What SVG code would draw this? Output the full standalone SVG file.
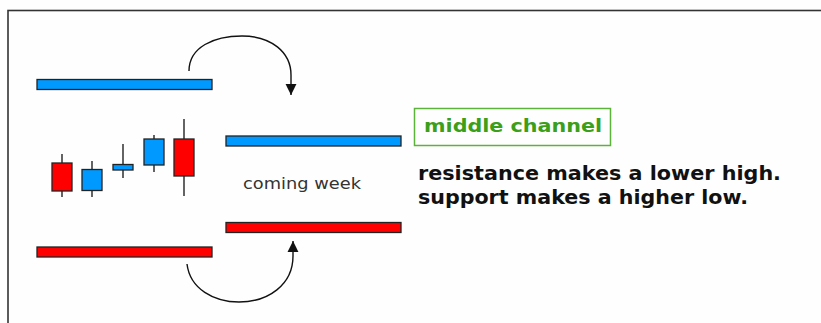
<svg xmlns="http://www.w3.org/2000/svg" width="821" height="323" viewBox="0 0 821 323">
  <style>
    .bar { stroke: #222; stroke-width: 1.3; }
    .blue { fill: #0099ff; }
    .red { fill: #ff0000; }
    .wick { stroke: #222; stroke-width: 1.4; fill: none; }
    .body { stroke: #222; stroke-width: 1.3; }
    .conn { stroke: #111; stroke-width: 1.4; fill: none; }
    .lbl { font-family: "DejaVu Sans", Verdana, sans-serif; }
  </style>
  <defs>
    <marker id="ah" markerUnits="userSpaceOnUse" markerWidth="12" markerHeight="12" refX="10" refY="5.5" orient="auto" viewBox="0 0 11 11">
      <path d="M0,0.5 L10,5.5 L0,10.5 z" fill="#111"/>
    </marker>
  </defs>
  <rect x="0" y="0" width="821" height="323" fill="#fefefe"/>
  <rect id="frame" x="8" y="10.5" width="830" height="330" fill="none" stroke="#333" stroke-width="1.6"/>

  <g id="old-resistance"><rect class="bar blue" x="37" y="79.5" width="175" height="10"/></g>
  <g id="new-resistance"><rect class="bar blue" x="226" y="136" width="175" height="10"/></g>
  <g id="old-support"><rect class="bar red" x="37" y="247" width="175" height="10"/></g>
  <g id="new-support"><rect class="bar red" x="226" y="222.5" width="175" height="10"/></g>

  <g id="candles">
    <g id="c1"><line class="wick" x1="62" y1="154" x2="62" y2="197"/><rect class="body red" x="52" y="163" width="20" height="28"/></g>
    <g id="c2"><line class="wick" x1="92" y1="161" x2="92" y2="197"/><rect class="body blue" x="82" y="169.5" width="20" height="21"/></g>
    <g id="c3"><line class="wick" x1="123" y1="144" x2="123" y2="178"/><rect class="body blue" x="113" y="164.5" width="20" height="5.5"/></g>
    <g id="c4"><line class="wick" x1="154" y1="135" x2="154" y2="172"/><rect class="body blue" x="144" y="139" width="20" height="26"/></g>
    <g id="c5"><line class="wick" x1="184" y1="119" x2="184" y2="196"/><rect class="body red" x="174" y="139" width="20" height="37"/></g>
  </g>

  <g id="connectors">
    <path class="conn" d="M189,71 C189,47 214,36 242,36 C271,36 291,52 291,75 L291,95" marker-end="url(#ah)"/>
    <path class="conn" d="M187,264 C190,289 214,302 239,302 C268,302 293,285 293,256 L293,241" marker-end="url(#ah)"/>
  </g>

  <g id="coming-week">
    <text class="lbl" x="243" y="189" font-size="15" fill="#333" textLength="118" lengthAdjust="spacingAndGlyphs">coming week</text>
  </g>

  <g id="middle-channel">
    <rect x="414.5" y="108.5" width="196" height="37" fill="none" stroke="#5cb33a" stroke-width="1.5"/>
    <text class="lbl" x="424" y="132" font-size="17.5" font-weight="bold" fill="#3c9f1a" textLength="178" lengthAdjust="spacingAndGlyphs">middle channel</text>
  </g>

  <g id="description">
    <text class="lbl" x="418" y="179.5" font-size="19" font-weight="bold" fill="#111" textLength="363" lengthAdjust="spacingAndGlyphs">resistance makes a lower high.</text>
    <text class="lbl" x="418" y="204" font-size="19" font-weight="bold" fill="#111" textLength="330" lengthAdjust="spacingAndGlyphs">support makes a higher low.</text>
  </g>
</svg>
